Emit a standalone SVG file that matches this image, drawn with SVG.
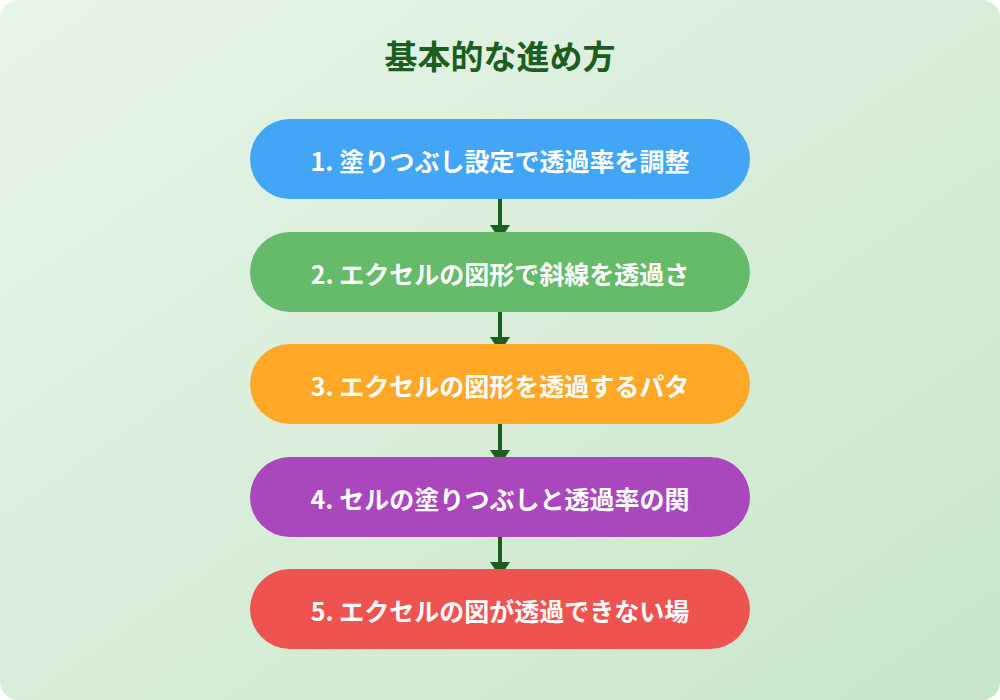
<svg xmlns="http://www.w3.org/2000/svg" width="1000" height="700" viewBox="0 0 1000 700">
<defs>
<linearGradient id="bg" x1="0" y1="0" x2="1" y2="1">
<stop offset="0" stop-color="#e8f5e9"/>
<stop offset="1" stop-color="#c8e6c9"/>
</linearGradient>
<marker id="arr" viewBox="0 0 15 20" refX="15" refY="10" markerWidth="15" markerHeight="20" markerUnits="userSpaceOnUse" orient="auto">
<path d="M0,0 L15,10 L0,20 Z" fill="#1b5e20"/>
</marker>
<style>
.node-text{font-family:"Noto Sans CJK JP","Noto Sans",sans-serif;font-weight:bold;font-size:25px;fill:#ffffff;text-anchor:middle;dominant-baseline:central}
.title{font-family:"Noto Sans CJK JP","Noto Sans",sans-serif;font-weight:bold;font-size:33px;fill:#1b5e20;text-anchor:middle;dominant-baseline:central}
.conn{stroke:#1b5e20;stroke-width:4;fill:none;marker-end:url(#arr)}
</style>
</defs>
<rect x="0" y="0" width="1000" height="700" rx="18" ry="18" fill="url(#bg)"/>
<text class="title" x="500" y="55">基本的な進め方</text>
<g id="connectors">
<line class="conn" x1="500" y1="199" x2="500" y2="240"/>
<line class="conn" x1="500" y1="312" x2="500" y2="352"/>
<line class="conn" x1="500" y1="424" x2="500" y2="465"/>
<line class="conn" x1="500" y1="537" x2="500" y2="577"/>
</g>
<g id="node1">
<rect x="250" y="119" width="500" height="80" rx="40" ry="40" fill="#42a5f5"/>
<text class="node-text" x="500" y="160">1. 塗りつぶし設定で透過率を調整</text>
</g>
<g id="node2">
<rect x="250" y="232" width="500" height="80" rx="40" ry="40" fill="#66bb6a"/>
<text class="node-text" x="500" y="273">2. エクセルの図形で斜線を透過さ</text>
</g>
<g id="node3">
<rect x="250" y="344" width="500" height="80" rx="40" ry="40" fill="#ffa726"/>
<text class="node-text" x="500" y="385">3. エクセルの図形を透過するパタ</text>
</g>
<g id="node4">
<rect x="250" y="457" width="500" height="80" rx="40" ry="40" fill="#ab47bc"/>
<text class="node-text" x="500" y="498">4. セルの塗りつぶしと透過率の関</text>
</g>
<g id="node5">
<rect x="250" y="569" width="500" height="80" rx="40" ry="40" fill="#ef5350"/>
<text class="node-text" x="500" y="610">5. エクセルの図が透過できない場</text>
</g>
</svg>
